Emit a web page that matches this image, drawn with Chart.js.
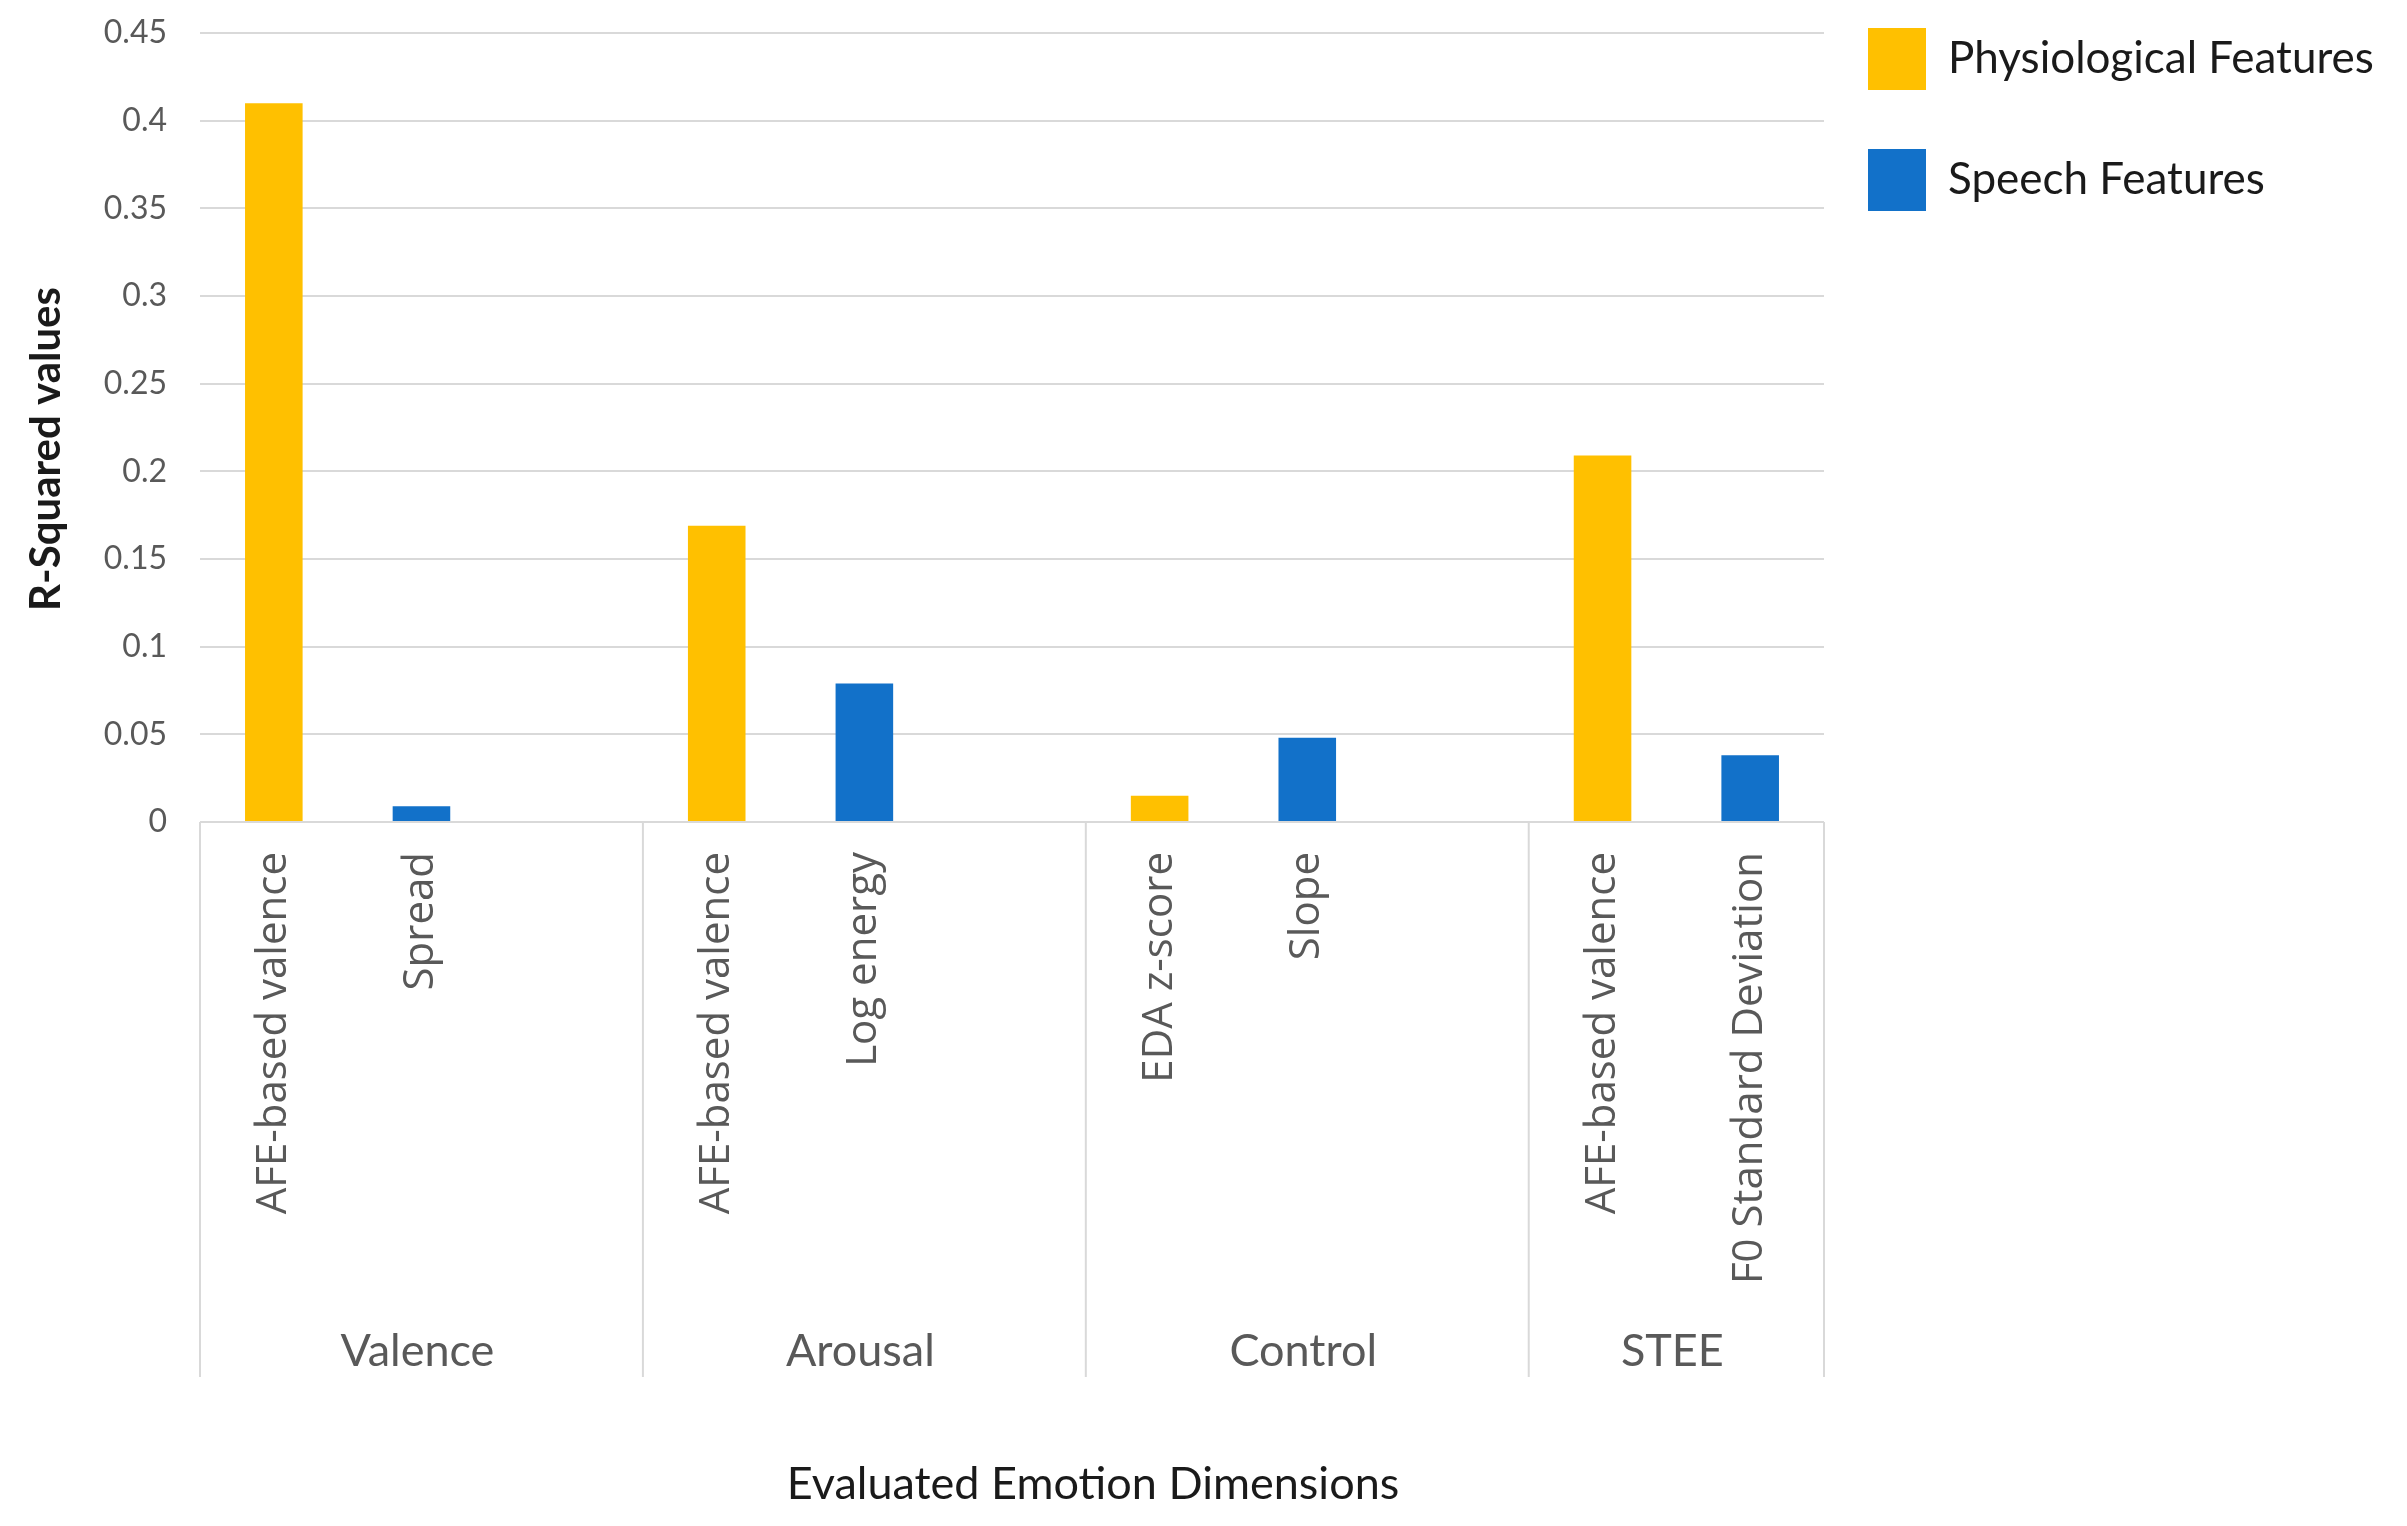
<!DOCTYPE html>
<html>
<head>
<meta charset="utf-8">
<script src="https://cdn.jsdelivr.net/npm/chart.js@4.4.1/dist/chart.umd.min.js"></script>
<style>
  html, body { margin: 0; padding: 0; background: #fff; }
  canvas { display: block; }
</style>
</head>
<body>
<canvas id="chart" width="2407" height="1526"></canvas>
<script>
// categories (one slot per bar, empty slot closes each group)
const featureLabels = ['AFE-based valence', 'Spread', '', 'AFE-based valence', 'Log energy', '',
                       'EDA z-score', 'Slope', '', 'AFE-based valence', 'F0 Standard Deviation'];
const groupNames = ['Valence', 'Arousal', 'Control', 'STEE'];
const groupSizes = [3, 3, 3, 2];

// R-squared values
const physiological = [0.41, null, null, 0.169, null, null, 0.015, null, null, 0.209, null];
const speech = [null, 0.009, null, null, 0.079, null, null, 0.048, null, null, 0.038];

const yMax = 0.45;
const yStep = 0.05;

const GRID = '#d9d9d9';
const TICK = '#595959';

// group row under the axis + axis titles
const groupPlugin = {
    id: 'groupRow',
    afterInit(chart) {
        // fixed legend width so the plot ends where it does in the original
        const lg = chart.legend;
        const fit = lg.fit.bind(lg);
        lg.fit = function () { fit(); this.width = 583; };
    },
    afterLayout(chart) {
        const lg = chart.legend;
        const p = lg.options.labels.padding;
        lg.left = chart.chartArea.right + 44 - p;
        lg.top = 28 - p;
    },
    afterDraw(chart) {
        const ctx = chart.ctx;
        const x = chart.scales.x;
        const half = (x.getPixelForValue(1) - x.getPixelForValue(0)) / 2;
        const top = chart.chartArea.bottom;
        const bottom = 1377;

        ctx.save();
        ctx.strokeStyle = GRID;
        ctx.lineWidth = 2;
        ctx.fillStyle = TICK;
        ctx.font = '45px Lato';
        ctx.textAlign = 'center';
        ctx.textBaseline = 'middle';

        let start = 0;
        groupSizes.forEach((n, g) => {
            const l = x.getPixelForValue(start) - half;
            const r = x.getPixelForValue(start + n - 1) + half;
            ctx.beginPath();
            ctx.moveTo(l, top); ctx.lineTo(l, bottom);
            if (g === groupSizes.length - 1) { ctx.moveTo(r, top); ctx.lineTo(r, bottom); }
            ctx.stroke();
            ctx.fillText(groupNames[g], (l + r) / 2 - 4, 1351);
            start += n;
        });

        // axis titles
        ctx.fillStyle = '#1a1a1a';
        ctx.font = '45px Lato';
        ctx.fillText('Evaluated Emotion Dimensions', 1093, 1484);

        ctx.translate(46, 449);
        ctx.rotate(-Math.PI / 2);
        ctx.font = 'bold 42px Lato';
        ctx.fillText('R-Squared values', 0, 0);
        ctx.restore();
    }
};

new Chart(document.getElementById('chart'), {
    type: 'bar',
    data: {
        labels: featureLabels,
        datasets: [
            { label: 'Physiological Features', data: physiological, backgroundColor: '#FFC000' },
            { label: 'Speech Features', data: speech, backgroundColor: '#1271C9' }
        ]
    },
    options: {
        responsive: false,
        devicePixelRatio: 1,
        animation: false,
        layout: { padding: { top: 33, right: 0, bottom: 0, left: 0 } },
        datasets: { bar: { grouped: false, categoryPercentage: 1, barPercentage: 0.39, skipNull: true } },
        plugins: {
            tooltip: { enabled: false },
            legend: {
                position: 'right',
                align: 'start',
                labels: {
                    boxWidth: 58, boxHeight: 62, padding: 59,
                    color: '#1a1a1a',
                    font: { family: 'Lato', size: 44 }
                }
            }
        },
        scales: {
            x: {
                afterFit: s => { s.height = 704; },
                grid: { display: false },
                border: { display: false },
                ticks: {
                    autoSkip: false, minRotation: 90, maxRotation: 90, padding: 22,
                    color: TICK, font: { family: 'Open Sans', size: 42 }
                }
            },
            y: {
                min: 0, max: yMax,
                afterFit: s => { s.width = 200; s.paddingTop = 0; s.paddingBottom = 0; },
                grid: { color: GRID, lineWidth: 2, drawTicks: false },
                border: { display: false },
                ticks: {
                    stepSize: yStep, padding: 33,
                    color: TICK, font: { family: 'Lato', size: 32 },
                    callback: v => String(Number(v.toFixed(2)))
                }
            }
        }
    },
    plugins: [groupPlugin]
});
</script>
</body>
</html>
